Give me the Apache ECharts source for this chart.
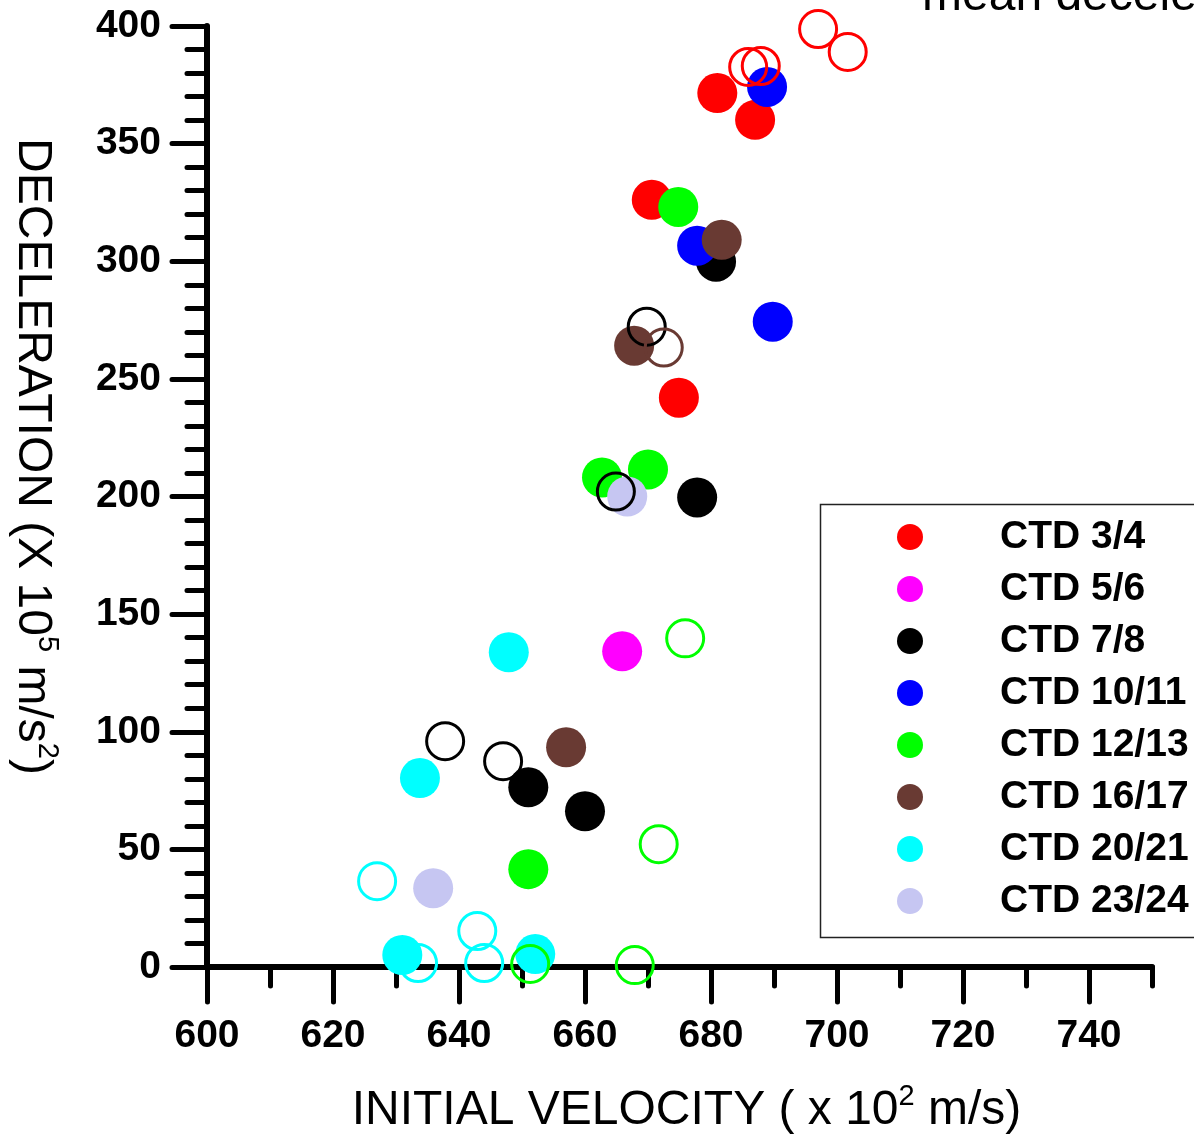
<!DOCTYPE html>
<html>
<head>
<meta charset="utf-8">
<script src="https://cdn.jsdelivr.net/npm/echarts@6/dist/echarts.min.js"></script>
<style>
  html, body { margin: 0; padding: 0; background: #fff; }
  #chart { width: 1194px; height: 1140px; }
</style>
</head>
<body>
<div id="chart"></div>
<script>
// tick values
const xMajorTicks = [600, 620, 640, 660, 680, 700, 720, 740];
const xMinorTicks = [610, 630, 650, 670, 690, 710, 730, 750];

// groups (filled = solid markers, open = hollow markers)
const groupNames = ['CTD 3/4', 'CTD 5/6', 'CTD 7/8', 'CTD 10/11', 'CTD 12/13', 'CTD 16/17', 'CTD 20/21', 'CTD 23/24'];
const groupColors = ['#ff0000', '#ff00ff', '#000000', '#0000ff', '#00ff00', '#693a33', '#00ffff', '#c6c6f2'];

const ctd34 = [[681.0, 371.5], [687.0, 360.1], [670.6, 326.1], [674.9, 242.0]];
const ctd56 = [[665.9, 134.2]];
const ctd78 = [[680.8, 299.8], [677.8, 199.6], [651.0, 76.4], [660.0, 66.2]];
const ctd1011 = [[688.9, 374.1], [677.8, 306.6], [689.8, 274.3]];
const ctd1213 = [[674.8, 323.1], [662.7, 208.1], [670.0, 211.5], [651.0, 41.6]];
const ctd1617 = [[681.7, 309.1], [667.8, 264.1], [657.0, 93.4]];
const ctd2021 = [[647.9, 133.8], [633.8, 80.3], [631.0, 5.1], [652.1, 5.5]];
const ctd2324 = [[635.9, 33.5], [666.7, 200.0]];

const ctd34Open = [[697.0, 398.7], [701.7, 389.0], [685.9, 382.6], [687.9, 383.0]];
const ctd78Open = [[669.8, 272.2], [664.9, 202.1], [637.8, 96.0], [647.0, 87.5]];
const ctd1213Open = [[675.9, 139.7], [671.7, 52.2], [651.3, 1.3], [667.9, 0.8]];
const ctd1617Open = [[672.5, 263.3]];
const ctd2021Open = [[627.0, 36.5], [633.5, 1.7], [642.9, 15.3], [644.0, 1.7]];

const filledData = [ctd34, ctd56, ctd78, ctd1011, ctd1213, ctd1617, ctd2021, ctd2324];
const openData = [
  [0, ctd34Open],
  [2, ctd78Open],
  [4, ctd1213Open],
  [5, ctd1617Open],
  [6, ctd2021Open]
];

const FONT = '"Liberation Sans", Arial, sans-serif';

const chart = echarts.init(document.getElementById('chart'));

const series = [];
filledData.forEach((d, i) => {
  series.push({
    name: groupNames[i],
    type: 'scatter',
    symbol: 'circle',
    symbolSize: 40,
    itemStyle: { color: groupColors[i], opacity: 1 },
    data: d
  });
});
openData.forEach(([i, d]) => {
  series.push({
    name: groupNames[i] + ' open',
    type: 'scatter',
    symbol: 'circle',
    symbolSize: 37,
    itemStyle: { color: 'rgba(0,0,0,0)', borderColor: groupColors[i], borderWidth: 3, opacity: 1 },
    data: d
  });
});

const nameRich = {
  t: { fontSize: 48, fontFamily: FONT, color: '#000', lineHeight: 58, verticalAlign: 'middle' },
  s: { fontSize: 29, fontFamily: FONT, color: '#000', lineHeight: 38, verticalAlign: 'top' }
};

const option = {
  animation: false,
  backgroundColor: '#fff',
  graphic: [{
    type: 'text',
    x: 922,
    y: 21,
    style: {
      text: 'mean deceleration',
      font: '48px ' + FONT,
      fill: '#000',
      verticalAlign: 'bottom'
    }
  }, {
    // legend frame, runs off the right edge like the original
    type: 'rect',
    shape: { x: 820.5, y: 504.5, width: 500, height: 433 },
    style: { fill: 'none', stroke: '#222', lineWidth: 1.5 }
  }],
  grid: { left: 207, right: 42, top: 26, bottom: 172 },
  legend: {
    orient: 'vertical',
    // layout is by drawn bounds, so left is where the first circle starts
    left: 897,
    top: 504,
    data: groupNames,
    itemWidth: 170,
    itemHeight: 26,
    itemGap: 12,
    padding: [13, 0, 0, 0],
    borderWidth: 0,
    textStyle: { fontSize: 39, fontWeight: 'bold', fontFamily: FONT, color: '#000', lineHeight: 40 }
  },
  xAxis: [{
    type: 'value',
    min: 600,
    max: 750,
    interval: 10,
    name: '{t|INITIAL VELOCITY ( x 10}{s|2}{t| m/s)}',
    nameLocation: 'middle',
    nameGap: 115,
    nameTextStyle: { padding: [0, 0, 0, 14], rich: nameRich },
    splitLine: { show: false },
    axisLine: { onZero: false, lineStyle: { color: '#000', width: 6, cap: 'round' } },
    axisTick: { customValues: xMajorTicks, length: 35, lineStyle: { color: '#000', width: 5, cap: 'round' } },
    axisLabel: {
      customValues: xMajorTicks,
      margin: 50,
      fontSize: 39,
      fontWeight: 'bold',
      fontFamily: FONT,
      color: '#000'
    }
  }, {
    type: 'value',
    min: 600,
    max: 750,
    interval: 10,
    position: 'bottom',
    offset: 0,
    splitLine: { show: false },
    axisLine: { show: false },
    axisTick: { customValues: xMinorTicks, length: 19, lineStyle: { color: '#000', width: 5, cap: 'round' } },
    axisLabel: { show: false }
  }],
  yAxis: {
    type: 'value',
    min: 0,
    max: 400,
    interval: 50,
    name: '{t|DECELERATION (X 10}{s|5}{t| m/s}{s|2}{t|)}',
    nameLocation: 'middle',
    nameRotate: -90,
    nameGap: 146,
    nameTextStyle: { padding: [0, 80, 0, 0], rich: nameRich },
    splitLine: { show: false },
    axisLine: { onZero: false, lineStyle: { color: '#000', width: 6, cap: 'round' } },
    axisTick: { length: 35, lineStyle: { color: '#000', width: 5, cap: 'round' } },
    minorTick: { show: true, splitNumber: 5, length: 20, lineStyle: { color: '#000', width: 5, cap: 'round' } },
    axisLabel: {
      margin: 46,
      fontSize: 39,
      fontWeight: 'bold',
      fontFamily: FONT,
      color: '#000'
    }
  },
  series: series
};

chart.setOption(option);
</script>
</body>
</html>
